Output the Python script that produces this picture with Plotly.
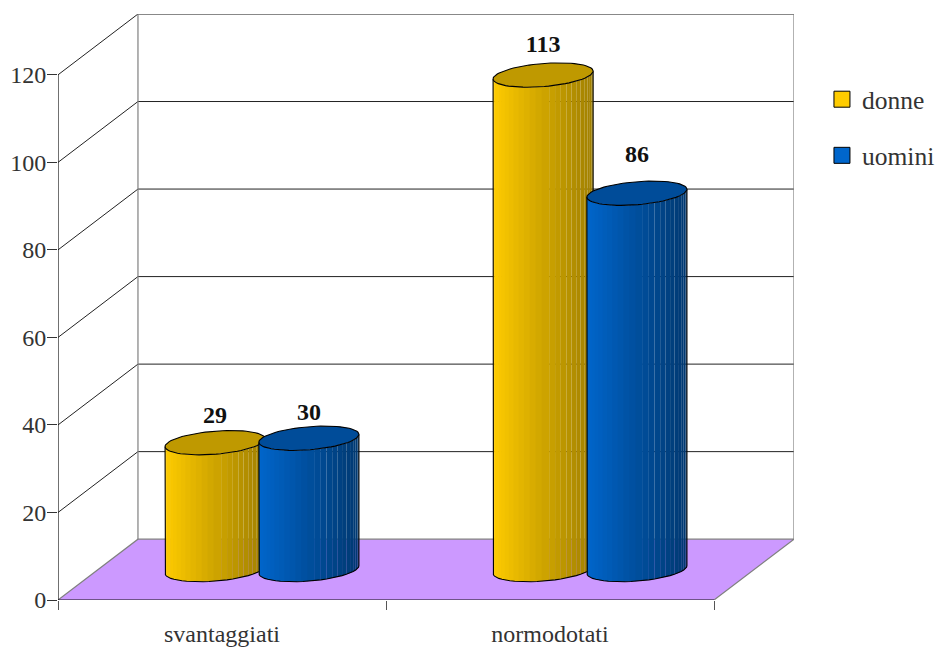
import math
import plotly.graph_objects as go

# Chart data
categories = ["svantaggiati", "normodotati"]
series_names = ["donne", "uomini"]
donne = [29, 113]
uomini = [30, 86]
y_ticks = [0, 20, 40, 60, 80, 100, 120]

# Oblique projection: how far the back wall is shifted, in axis units
DEPTH_X = 0.2438
DEPTH_Y = 13.9
Y_MAX = 120
N_CAT = len(categories)

FONT = "Liberation Serif"
INK = "#333333"


def project(x, v, d):
    """Map category position, value and depth (0 front, 1 back) onto the axes."""
    return x + d * DEPTH_X, v + d * DEPTH_Y


fig = go.Figure()


def poly(points, fill=None, line=None, width=1):
    xs = [p[0] for p in points]
    ys = [p[1] for p in points]
    fig.add_trace(go.Scatter(
        x=xs, y=ys, mode="lines" if line else "none",
        fill="toself" if fill else None, fillcolor=fill,
        line=dict(color=line, width=width) if line else None,
        showlegend=False, hoverinfo="skip",
    ))


# Floor
poly([project(0, 0, 0), project(N_CAT, 0, 0), project(N_CAT, 0, 1), project(0, 0, 1), project(0, 0, 0)],
     fill="#CC99FF")

# Walls and gridlines
for v in y_ticks:
    if v > 0:
        poly([project(0, v, 0), project(0, v, 1), project(N_CAT, v, 1)], line="#222222", width=1)
poly([project(0, 0, 0), project(0, 0, 1), project(N_CAT, 0, 1), project(N_CAT, 0, 0)], line="#808080", width=1.2)
poly([project(0, 0, 1), project(0, Y_MAX, 1), project(N_CAT, Y_MAX, 1), project(N_CAT, 0, 1)],
     line="#808080", width=1.2)

# Front axis lines
poly([project(0, Y_MAX, 0), project(0, 0, 0), project(N_CAT, 0, 0)], line="#111111", width=1.2)


# Cylinders
OFFSET = 0.143       # bar centre distance from the category centre
RADIUS = 0.1445      # radius across the width
TILT = 0.2           # radius along the depth axis
CENTRE_DEPTH = 0.5
N_STRIPS = 26
SMOOTH_UNTIL = 0.55  # strips left of this fraction overlap, so no seam shows
OVERLAP = 0.03

t0 = math.atan2(TILT * DEPTH_X, RADIUS)


def rim(cx, v, t):
    return project(cx + RADIUS * math.cos(t), v, CENTRE_DEPTH + TILT * math.sin(t))


def mix(a, b, f):
    return "rgb(%d,%d,%d)" % tuple(round(a[i] + (b[i] - a[i]) * f) for i in range(3))


def cylinder(cx, value, light, dark, cap):
    ts = [math.pi + t0 + math.pi * i / N_STRIPS for i in range(N_STRIPS + 1)]
    left = rim(cx, 0, ts[0])[0]
    right = rim(cx, 0, ts[-1])[0]
    for k, (t1, t2) in enumerate(zip(ts, ts[1:])):
        frac = (rim(cx, 0, (t1 + t2) / 2)[0] - left) / (right - left)
        start = t1 - OVERLAP if (k > 0 and frac < SMOOTH_UNTIL) else t1
        poly([rim(cx, 0, start), rim(cx, 0, t2), rim(cx, value, t2), rim(cx, value, start), rim(cx, 0, start)],
             fill=mix(light, dark, frac))
    # silhouette
    poly([rim(cx, value, ts[0])] + [rim(cx, 0, t) for t in ts] + [rim(cx, value, ts[-1])],
         line="#000000", width=1.1)
    # top cap
    cap_pts = [rim(cx, value, 2 * math.pi * i / 72) for i in range(73)]
    poly(cap_pts, fill=cap, line="#000000", width=1.1)


YELLOW = ((255, 204, 0), (160, 127, 0), "#BF9900")
BLUE = ((0, 102, 204), (0, 56, 112), "#004C99")

# value labels: lift above the bar top, per series and category
label_lift = {("donne", 0): 5.9, ("uomini", 0): 5.6, ("donne", 1): 6.6, ("uomini", 1): 8.4}

label_x, label_y, label_text = [], [], []
for i in range(N_CAT):
    centre = i + 0.5
    for name, values, sign, style in (("donne", donne, -1, YELLOW), ("uomini", uomini, 1, BLUE)):
        cx = centre + sign * OFFSET
        cylinder(cx, values[i], *style)
        lx, ly = project(cx, values[i] + label_lift[(name, i)], CENTRE_DEPTH)
        label_x.append(lx)
        label_y.append(ly)
        label_text.append(str(values[i]))

fig.add_trace(go.Scatter(
    x=label_x, y=label_y, text=label_text, mode="text", textposition="middle center",
    textfont=dict(family=FONT, size=24, color="#111111", weight="bold"),
    showlegend=False, hoverinfo="skip",
))

# Legend entries
for name, colour in zip(series_names, ("#FFCC00", "#0066CC")):
    fig.add_trace(go.Scatter(
        x=[None], y=[None], mode="markers", name=name, legendgroup=name,
        marker=dict(symbol="square", size=16, color=colour, line=dict(color="#000000", width=1)),
    ))

fig.update_layout(
    width=935, height=648,
    margin=dict(l=57.5, r=141, t=13.5, b=47.5, autoexpand=False),
    paper_bgcolor="white", plot_bgcolor="white",
    font=dict(family=FONT, color=INK, size=24),
    xaxis=dict(
        range=[0, N_CAT + DEPTH_X], showgrid=False, zeroline=False, showline=False,
        tickmode="array", tickvals=[i + 0.5 for i in range(N_CAT)], ticktext=categories,
        ticks="", ticklabelstandoff=17, tickfont=dict(family=FONT, size=24, color=INK),
        minor=dict(tickmode="array", tickvals=list(range(N_CAT + 1)), ticks="outside",
                   ticklen=9, tickcolor="#555555", tickwidth=1, showgrid=False),
    ),
    yaxis=dict(
        range=[0, Y_MAX + DEPTH_Y], showgrid=False, zeroline=False, showline=False,
        tickmode="array", tickvals=y_ticks, ticks="outside", ticklen=10, ticklabelstandoff=-4,
        tickcolor="#333333", tickwidth=1, tickfont=dict(family=FONT, size=24, color=INK),
    ),
    legend=dict(
        x=1.038, y=0.894, xanchor="left", yanchor="top", bgcolor="rgba(0,0,0,0)",
        tracegroupgap=20, itemwidth=30, font=dict(family=FONT, size=25.5, color=INK),
    ),
)

fig.write_html("out.html")
